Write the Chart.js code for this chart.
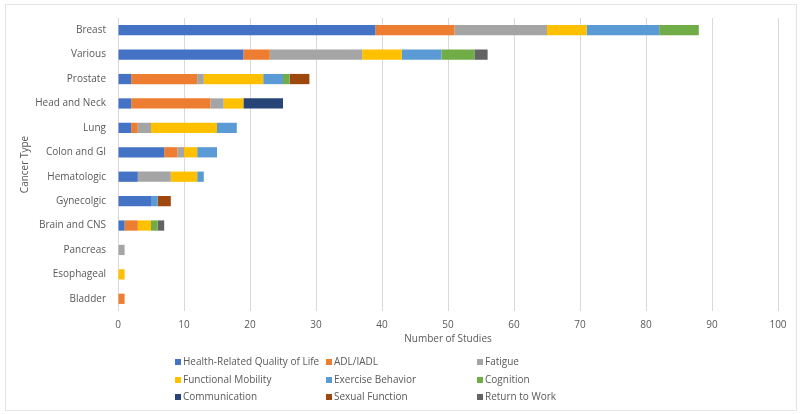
<!DOCTYPE html>
<html>
<head>
<meta charset="utf-8">
<script src="https://cdn.jsdelivr.net/npm/chart.js@4"></script>
<style>
    html, body { margin: 0; padding: 0; background: #fff; }
    #wrap { width: 800px; height: 414px; position: relative; }
</style>
</head>
<body>
<div id="wrap"><canvas id="cancerChart" width="800" height="414"></canvas></div>
<script>
const cancerTypes = ['Breast', 'Various', 'Prostate', 'Head and Neck', 'Lung', 'Colon and GI',
    'Hematologic', 'Gynecolgic', 'Brain and CNS', 'Pancreas', 'Esophageal', 'Bladder'];

const hrqol         = [39, 19, 2, 2, 2, 7, 3, 5, 1, 0, 0, 0];
const adlIadl       = [12, 4, 10, 12, 1, 2, 0, 0, 2, 0, 0, 1];
const fatigue       = [14, 14, 1, 2, 2, 1, 5, 0, 0, 1, 0, 0];
const funcMobility  = [6, 6, 9, 3, 10, 2, 4, 0, 2, 0, 1, 0];
const exerciseBeh   = [11, 6, 3, 0, 3, 3, 1, 1, 0, 0, 0, 0];
const cognition     = [6, 5, 1, 0, 0, 0, 0, 0, 1, 0, 0, 0];
const communication = [0, 0, 0, 6, 0, 0, 0, 0, 0, 0, 0, 0];
const sexualFunc    = [0, 0, 3, 0, 0, 0, 0, 2, 0, 0, 0, 0];
const returnToWork  = [0, 2, 0, 0, 0, 0, 0, 0, 1, 0, 0, 0];

const xTicks = [0, 10, 20, 30, 40, 50, 60, 70, 80, 90, 100];

const FONT = "'Open Sans', 'Liberation Sans', sans-serif";
const TEXT = '#595959';

function ds(label, data, color) {
    return { label: label, data: data, backgroundColor: color, borderWidth: 0,
             categoryPercentage: 1, barPercentage: 0.42 };
}

// legend drawn as a 3-column grid like the Excel original
const legendGrid = {
    id: 'legendGrid',
    afterDraw(chart) {
        const ctx = chart.ctx;
        const cols = [178, 329, 480];
        const rows = [362, 380, 397];
        ctx.save();
        ctx.font = '10px ' + FONT;
        ctx.textBaseline = 'middle';
        chart.data.datasets.forEach((d, i) => {
            const x = cols[i % 3], y = rows[Math.floor(i / 3)];
            ctx.fillStyle = d.backgroundColor;
            ctx.fillRect(x - 3, y - 3, 6, 6);
            ctx.fillStyle = TEXT;
            ctx.fillText(d.label, x + 5, y);
        });
        ctx.restore();
    },
    beforeDraw(chart) {
        const ctx = chart.ctx;
        ctx.save();
        ctx.strokeStyle = '#e4e4e4';
        ctx.lineWidth = 1;
        ctx.strokeRect(5.5, 4.5, 791, 406);
        ctx.restore();
    }
};

new Chart(document.getElementById('cancerChart').getContext('2d'), {
    type: 'bar',
    data: {
        labels: cancerTypes,
        datasets: [
            ds('Health-Related Quality of Life', hrqol, '#4472C4'),
            ds('ADL/IADL', adlIadl, '#ED7D31'),
            ds('Fatigue', fatigue, '#A5A5A5'),
            ds('Functional Mobility', funcMobility, '#FFC000'),
            ds('Exercise Behavior', exerciseBeh, '#5B9BD5'),
            ds('Cognition', cognition, '#70AD47'),
            ds('Communication', communication, '#264478'),
            ds('Sexual Function', sexualFunc, '#9E480E'),
            ds('Return to Work', returnToWork, '#636363')
        ]
    },
    plugins: [legendGrid],
    options: {
        indexAxis: 'y',
        responsive: false,
        animation: false,
        layout: { padding: { left: 15, right: 22, top: 15, bottom: 63 } },
        plugins: { legend: { display: false }, tooltip: { enabled: false } },
        scales: {
            x: {
                stacked: true,
                min: 0,
                max: 100,
                afterBuildTicks: s => { s.ticks = xTicks.map(v => ({ value: v })); },
                afterFit: s => { s.height = 40; },
                grid: { color: '#d9d9d9', drawTicks: false },
                border: { display: false },
                ticks: { color: TEXT, font: { family: FONT, size: 10 }, padding: 8 },
                title: { display: true, text: 'Number of Studies', color: TEXT,
                         font: { family: FONT, size: 10 }, padding: { top: 0, bottom: 6 } }
            },
            y: {
                stacked: true,
                afterFit: s => { s.width = 103; },
                grid: { display: false, drawTicks: false },
                border: { display: false },
                ticks: { color: TEXT, font: { family: FONT, size: 10 }, padding: 12 },
                title: { display: true, text: 'Cancer Type', color: TEXT,
                         font: { family: FONT, size: 10 }, padding: { top: 4, bottom: 0 } }
            }
        }
    }
});
</script>
</body>
</html>
